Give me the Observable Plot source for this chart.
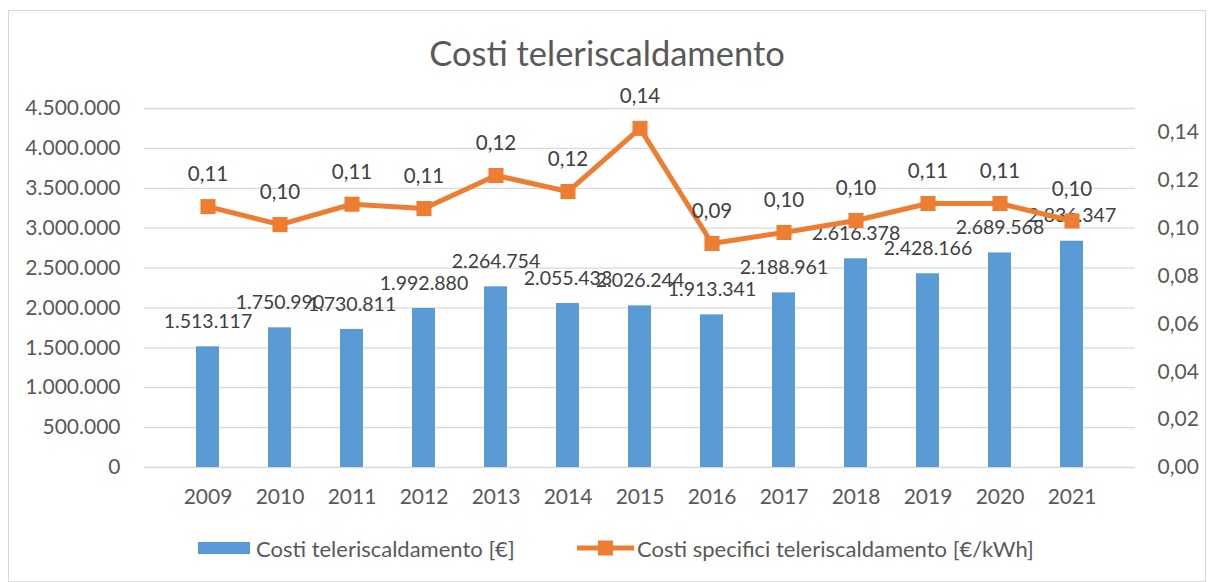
<!DOCTYPE html>
<html><head><meta charset="utf-8">
<script src="https://cdn.jsdelivr.net/npm/d3@7"></script>
<script src="https://cdn.jsdelivr.net/npm/@observablehq/plot@0.6"></script>
<style>
body{margin:0;background:#fff;font-family:Lato,"Open Sans",sans-serif;}
#wrap{position:relative;width:1214px;height:582px;overflow:hidden}
#frame{position:absolute;left:8px;top:10px;width:1198px;height:572px;border:1px solid #d9d9d9;box-sizing:border-box;pointer-events:none}
#title{height:60px;box-sizing:border-box;padding-top:36px;line-height:1;font-size:34.5px;text-align:center;color:#595959;white-space:nowrap}
#chart svg{display:block}
#legend{position:relative;height:62px;font-size:22px;color:#595959}
.lg{position:absolute;top:14px;display:flex;align-items:center;height:28px;white-space:nowrap}
</style></head>
<body>
<div id="wrap">
<div id="frame"></div>
<div id="title">Costi teleriscaldamento</div>
<div id="chart"></div>
<div id="legend"></div>
</div>
<script>
const years = ["2009","2010","2011","2012","2013","2014","2015","2016","2017","2018","2019","2020","2021"];
const costs = [1513117,1750990,1730811,1992880,2264754,2055433,2026244,1913341,2188961,2616378,2428166,2689568,2836347];
const specific = [0.109,0.1015,0.110,0.1082,0.122,0.1153,0.1417,0.0936,0.0982,0.1032,0.1103,0.1103,0.103];
const leftTicks = [0,500000,1000000,1500000,2000000,2500000,3000000,3500000,4000000,4500000];
const rightTicks = [0,0.02,0.04,0.06,0.08,0.10,0.12,0.14];
const seriesNames = ["Costi teleriscaldamento [€]","Costi specifici teleriscaldamento [€/kWh]"];

const blue = "#5b9bd5", orange = "#ed7d31";
const leftMax = 4500000, rightMax = 0.15, K = leftMax / rightMax;
const it = d3.formatLocale({decimal:",", thousands:".", grouping:[3], currency:["€",""]});
const fmtInt = it.format(",.0f");
const fmt2 = it.format(".2f");

const data = years.map((y,i) => ({year:y, cost:costs[i], spec:specific[i], specScaled:specific[i]*K}));
const font = "Lato, 'Open Sans', sans-serif";

const chart = Plot.plot({
  width:1214, height:460,
  marginTop:48, marginBottom:53, marginLeft:144, marginRight:79,
  style:{fontFamily:font, fontSize:"21px", color:"#595959", background:"transparent", overflow:"visible"},
  x:{type:"band", domain:years, padding:0.685, align:0.5},
  y:{domain:[0,leftMax]},
  marks:[
    Plot.ruleY(leftTicks, {stroke:"#d9d9d9", strokeWidth:1.3}),
    Plot.axisY({ticks:leftTicks, tickSize:0, tickPadding:24, tickFormat:d=>fmtInt(d), label:null, fontSize:21, fill:"#595959"}),
    Plot.axisY({anchor:"right", ticks:rightTicks.map(v=>v*K), tickSize:0, tickPadding:22, tickFormat:d=>fmt2(d/K), label:null, fontSize:21, fill:"#595959", textAnchor:"start"}),
    Plot.axisX({tickSize:0, tickPadding:22, label:null, fontSize:21, fill:"#595959"}),
    Plot.barY(data, {x:"year", y:"cost", fill:blue}),
    Plot.text(data, {x:"year", y:"cost", text:d=>fmtInt(d.cost), dy:-25, fontSize:19.5, fill:"#404040"}),
    Plot.lineY(data, {x:"year", y:"specScaled", stroke:orange, strokeWidth:5, strokeLinejoin:"round"}),
    Plot.dot(data, {x:"year", y:"specScaled", symbol:"square", r:8.5, fill:orange, stroke:"none"}),
    Plot.text(data, {x:"year", y:"specScaled", text:d=>fmt2(d.spec), dy:-32, fontSize:20.5, fill:"#404040"})
  ]
});
document.getElementById("chart").appendChild(chart);

const lg = document.getElementById("legend");
lg.innerHTML = `
<div class="lg" style="left:198px"><svg width="52" height="12" style="margin-right:6px"><rect width="52" height="12" fill="${blue}"/></svg>${seriesNames[0]}</div>
<div class="lg" style="left:577px"><svg width="57" height="16" style="margin-right:3px"><line x1="0" x2="57" y1="8" y2="8" stroke="${orange}" stroke-width="5" stroke-linecap="round"/><rect x="21" y="0.5" width="15" height="15" fill="${orange}"/></svg>${seriesNames[1]}</div>`;
</script>
</body></html>
